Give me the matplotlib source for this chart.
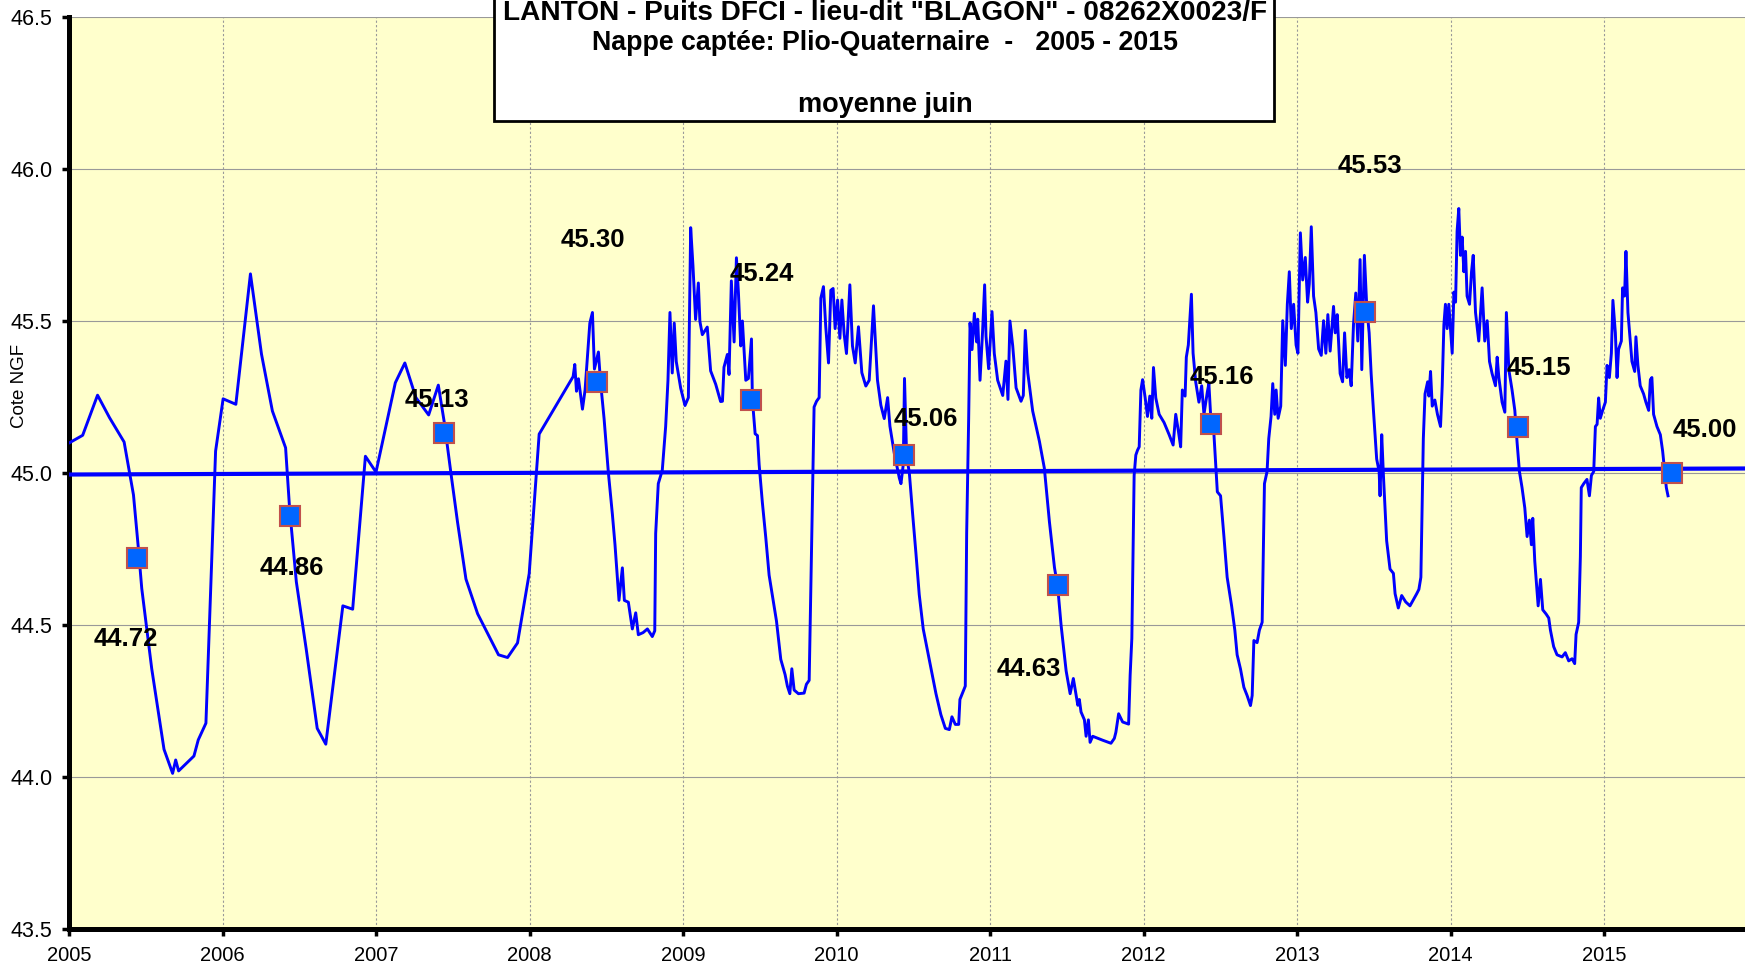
import numpy as np
import matplotlib
matplotlib.use('Agg')
import matplotlib.pyplot as plt
from matplotlib.patches import Rectangle

plt.rcParams['font.family'] = ['Liberation Sans', 'DejaVu Sans']

# piezometric level (m NGF), dates as decimal years
dates_2005_2007 = [2005.005, 2005.089, 2005.186, 2005.264, 2005.359, 2005.420, 2005.452, 2005.474,
                   2005.539, 2005.619, 2005.675, 2005.695, 2005.714, 2005.814, 2005.842, 2005.892,
                   2005.955, 2006.004, 2006.087, 2006.182, 2006.254, 2006.325, 2006.411, 2006.437,
                   2006.481, 2006.545, 2006.617, 2006.673, 2006.784, 2006.848, 2006.931, 2007.000,
                   2007.126, 2007.188]
cote_2005_2007 = [45.100, 45.124, 45.256, 45.182, 45.102, 44.928, 44.752, 44.620,
                  44.356, 44.091, 44.012, 44.056, 44.020, 44.069, 44.122, 44.177,
                  45.072, 45.244, 45.226, 45.655, 45.391, 45.204, 45.083, 44.884,
                  44.642, 44.422, 44.160, 44.108, 44.563, 44.552, 45.055, 45.003,
                  45.297, 45.362]

dates_2007_2009 = [2007.260, 2007.343, 2007.406, 2007.445, 2007.488, 2007.531, 2007.586, 2007.662,
                   2007.798, 2007.857, 2007.922, 2007.998, 2008.063, 2008.284, 2008.295, 2008.306,
                   2008.319, 2008.345, 2008.362, 2008.393, 2008.410, 2008.423, 2008.449, 2008.462,
                   2008.486, 2008.514, 2008.540, 2008.557, 2008.583, 2008.605, 2008.618, 2008.644,
                   2008.670, 2008.692, 2008.709, 2008.740, 2008.768, 2008.800, 2008.816, 2008.822,
                   2008.839, 2008.865, 2008.887, 2008.902, 2008.915, 2008.930, 2008.943, 2008.956,
                   2008.985, 2009.013, 2009.035, 2009.050, 2009.065, 2009.082, 2009.100, 2009.110,
                   2009.126, 2009.158, 2009.180, 2009.213, 2009.245]
cote_2007_2009 = [45.248, 45.191, 45.289, 45.166, 45.000, 44.839, 44.651, 44.537,
                  44.402, 44.393, 44.441, 44.669, 45.128, 45.317, 45.357, 45.269,
                  45.310, 45.210, 45.273, 45.493, 45.528, 45.342, 45.398, 45.304,
                  45.178, 45.000, 44.864, 44.764, 44.581, 44.688, 44.581, 44.575,
                  44.487, 44.540, 44.468, 44.475, 44.487, 44.462, 44.481, 44.801,
                  44.965, 45.009, 45.153, 45.304, 45.528, 45.329, 45.493, 45.367,
                  45.279, 45.222, 45.248, 45.807, 45.681, 45.505, 45.625, 45.499,
                  45.455, 45.480, 45.336, 45.292, 45.235]

dates_2009_2011 = [2009.257, 2009.267, 2009.289, 2009.300, 2009.315, 2009.333, 2009.348, 2009.361,
                   2009.376, 2009.387, 2009.409, 2009.426, 2009.446, 2009.452, 2009.470, 2009.485,
                   2009.496, 2009.517, 2009.539, 2009.561, 2009.589, 2009.609, 2009.637, 2009.665,
                   2009.680, 2009.696, 2009.709, 2009.724, 2009.752, 2009.789, 2009.804, 2009.822,
                   2009.839, 2009.854, 2009.870, 2009.887, 2009.898, 2009.915, 2009.930, 2009.948,
                   2009.963, 2009.978, 2009.991, 2010.007, 2010.022, 2010.035, 2010.050, 2010.065,
                   2010.087, 2010.104, 2010.122, 2010.143, 2010.165, 2010.191, 2010.213, 2010.241,
                   2010.267, 2010.289, 2010.311, 2010.333, 2010.348, 2010.376, 2010.409, 2010.420,
                   2010.435, 2010.443, 2010.457, 2010.474, 2010.496, 2010.517, 2010.539, 2010.565,
                   2010.604, 2010.648, 2010.680, 2010.709, 2010.735, 2010.752, 2010.774, 2010.796,
                   2010.804, 2010.839, 2010.848, 2010.861, 2010.870, 2010.883, 2010.898, 2010.913,
                   2010.920, 2010.935, 2010.952, 2010.965, 2010.974, 2010.991, 2011.013, 2011.028,
                   2011.050, 2011.083, 2011.104, 2011.117, 2011.130, 2011.148, 2011.170, 2011.202,
                   2011.217, 2011.230, 2011.246, 2011.278, 2011.322, 2011.354, 2011.387, 2011.420,
                   2011.441, 2011.463, 2011.496, 2011.522, 2011.543, 2011.572]
cote_2009_2011 = [45.236, 45.348, 45.390, 45.324, 45.632, 45.431, 45.708, 45.594,
                  45.418, 45.500, 45.305, 45.311, 45.441, 45.242, 45.129, 45.123,
                  45.028, 44.903, 44.789, 44.664, 44.576, 44.513, 44.387, 44.337,
                  44.299, 44.274, 44.356, 44.286, 44.274, 44.276, 44.305, 44.318,
                  44.802, 45.217, 45.236, 45.248, 45.575, 45.613, 45.481, 45.362,
                  45.601, 45.607, 45.475, 45.569, 45.443, 45.569, 45.456, 45.393,
                  45.619, 45.418, 45.362, 45.481, 45.330, 45.286, 45.305, 45.550,
                  45.305, 45.223, 45.179, 45.248, 45.154, 45.066, 44.984, 44.965,
                  45.028, 45.311, 45.053, 45.003, 44.865, 44.739, 44.600, 44.487,
                  44.387, 44.274, 44.205, 44.160, 44.156, 44.198, 44.173, 44.173,
                  44.255, 44.299, 44.802, 45.179, 45.494, 45.406, 45.525, 45.431,
                  45.506, 45.305, 45.469, 45.619, 45.450, 45.343, 45.531, 45.393,
                  45.305, 45.255, 45.368, 45.242, 45.500, 45.418, 45.280, 45.236,
                  45.255, 45.469, 45.330, 45.204, 45.104, 45.016, 44.840, 44.689,
                  44.626, 44.500, 44.349, 44.274, 44.324, 44.236]

dates_2011_2013 = [2011.582, 2011.593, 2011.615, 2011.626, 2011.641, 2011.652, 2011.669, 2011.734,
                   2011.788, 2011.810, 2011.820, 2011.838, 2011.864, 2011.903, 2011.913, 2011.924,
                   2011.939, 2011.950, 2011.961, 2011.972, 2011.983, 2011.994, 2012.011, 2012.026,
                   2012.041, 2012.054, 2012.065, 2012.080, 2012.102, 2012.134, 2012.167, 2012.193,
                   2012.210, 2012.227, 2012.242, 2012.253, 2012.271, 2012.279, 2012.292, 2012.312,
                   2012.323, 2012.340, 2012.361, 2012.379, 2012.394, 2012.416, 2012.426, 2012.437,
                   2012.459, 2012.481, 2012.502, 2012.524, 2012.545, 2012.574, 2012.595, 2012.610,
                   2012.632, 2012.654, 2012.675, 2012.697, 2012.708, 2012.719, 2012.740, 2012.755,
                   2012.773, 2012.788, 2012.805, 2012.816, 2012.831, 2012.842, 2012.855, 2012.864,
                   2012.877, 2012.894, 2012.907, 2012.924, 2012.937, 2012.950, 2012.963, 2012.978,
                   2012.994, 2013.006, 2013.022, 2013.037, 2013.054, 2013.069, 2013.080, 2013.093,
                   2013.108, 2013.123, 2013.141, 2013.158, 2013.173, 2013.188, 2013.201, 2013.216,
                   2013.238, 2013.249, 2013.262, 2013.281, 2013.297, 2013.310, 2013.325, 2013.340,
                   2013.353, 2013.368, 2013.383, 2013.396, 2013.411, 2013.422, 2013.439, 2013.455,
                   2013.470, 2013.483, 2013.498, 2013.519, 2013.535, 2013.541, 2013.552, 2013.563,
                   2013.584, 2013.606, 2013.628, 2013.639, 2013.660, 2013.682, 2013.708, 2013.736,
                   2013.758, 2013.780, 2013.794, 2013.807, 2013.823, 2013.834, 2013.851]
cote_2011_2013 = [44.255, 44.214, 44.188, 44.134, 44.188, 44.114, 44.134, 44.121,
                  44.111, 44.127, 44.147, 44.208, 44.181, 44.174, 44.335, 44.456,
                  44.992, 45.059, 45.075, 45.086, 45.273, 45.307, 45.247, 45.186,
                  45.253, 45.180, 45.347, 45.247, 45.193, 45.166, 45.126, 45.092,
                  45.193, 45.139, 45.086, 45.273, 45.253, 45.381, 45.421, 45.588,
                  45.394, 45.300, 45.233, 45.287, 45.193, 45.267, 45.294, 45.193,
                  45.126, 44.938, 44.925, 44.791, 44.657, 44.563, 44.483, 44.402,
                  44.355, 44.295, 44.268, 44.235, 44.268, 44.449, 44.442, 44.483,
                  44.509, 44.965, 45.005, 45.113, 45.186, 45.294, 45.193, 45.273,
                  45.180, 45.220, 45.501, 45.354, 45.555, 45.662, 45.475, 45.555,
                  45.421, 45.394, 45.790, 45.635, 45.709, 45.562, 45.622, 45.810,
                  45.582, 45.528, 45.408, 45.387, 45.501, 45.394, 45.521, 45.401,
                  45.548, 45.461, 45.521, 45.327, 45.300, 45.461, 45.314, 45.340,
                  45.287, 45.488, 45.592, 45.434, 45.702, 45.340, 45.716, 45.542,
                  45.461, 45.327, 45.206, 45.046, 45.005, 44.925, 45.126, 44.992,
                  44.777, 44.684, 44.670, 44.603, 44.556, 44.597, 44.576, 44.563,
                  44.583, 44.603, 44.617, 44.657, 45.113, 45.260, 45.300]

dates_2013_2015 = [2013.859, 2013.870, 2013.881, 2013.898, 2013.915, 2013.935, 2013.946, 2013.957,
                   2013.967, 2013.978, 2013.989, 2014.000, 2014.011, 2014.022, 2014.033, 2014.043,
                   2014.054, 2014.065, 2014.076, 2014.087, 2014.098, 2014.108, 2014.124, 2014.137,
                   2014.148, 2014.163, 2014.184, 2014.206, 2014.223, 2014.239, 2014.254, 2014.271,
                   2014.293, 2014.304, 2014.315, 2014.336, 2014.354, 2014.364, 2014.380, 2014.401,
                   2014.419, 2014.434, 2014.449, 2014.466, 2014.484, 2014.499, 2014.514, 2014.527,
                   2014.536, 2014.549, 2014.571, 2014.586, 2014.601, 2014.623, 2014.640, 2014.651,
                   2014.672, 2014.694, 2014.727, 2014.748, 2014.770, 2014.792, 2014.809, 2014.818,
                   2014.835, 2014.846, 2014.852, 2014.868, 2014.889, 2014.905, 2014.918, 2014.933,
                   2014.944, 2014.955, 2014.965, 2014.976, 2014.991, 2015.009, 2015.020, 2015.035,
                   2015.048, 2015.058, 2015.074, 2015.085, 2015.095, 2015.113, 2015.121, 2015.134,
                   2015.143, 2015.156, 2015.171, 2015.182, 2015.200, 2015.208, 2015.221, 2015.236,
                   2015.258, 2015.273, 2015.291, 2015.302, 2015.312, 2015.323, 2015.345, 2015.367,
                   2015.382, 2015.395, 2015.406, 2015.417]
cote_2013_2015 = [45.253, 45.334, 45.220, 45.240, 45.193, 45.153, 45.287, 45.488,
                  45.555, 45.475, 45.555, 45.475, 45.394, 45.595, 45.562, 45.796,
                  45.870, 45.716, 45.776, 45.662, 45.729, 45.582, 45.555, 45.662,
                  45.716, 45.528, 45.434, 45.609, 45.434, 45.501, 45.367, 45.327,
                  45.287, 45.381, 45.314, 45.233, 45.200, 45.528, 45.340, 45.273,
                  45.206, 45.099, 45.005, 44.952, 44.885, 44.791, 44.845, 44.764,
                  44.851, 44.710, 44.563, 44.650, 44.550, 44.536, 44.523, 44.483,
                  44.429, 44.402, 44.395, 44.409, 44.382, 44.389, 44.373, 44.469,
                  44.509, 44.724, 44.952, 44.965, 44.979, 44.925, 44.992, 45.005,
                  45.153, 45.160, 45.247, 45.180, 45.206, 45.233, 45.354, 45.314,
                  45.394, 45.568, 45.461, 45.314, 45.407, 45.434, 45.609, 45.582,
                  45.729, 45.528, 45.434, 45.367, 45.334, 45.448, 45.354, 45.287,
                  45.260, 45.233, 45.206, 45.307, 45.314, 45.193, 45.153, 45.126,
                  45.072, 45.005, 44.952, 44.925]

# linear trend over the period
tendance_x = [2005.0, 2016.0]
tendance_y = [44.995, 45.015]

# June mean level per year
annees = np.arange(2005, 2016)
moyenne_juin = [44.72, 44.86, 45.13, 45.30, 45.24, 45.06, 44.63, 45.16, 45.53, 45.15, 45.00]
# label offsets from each marker (points)
label_dx = [-8, 1, -5, -3, 8, 16, -21, 8, 4, 15, 24]
label_dy = [-58, -38, 24, 102, 91, 26, -60, 34, 105, 43, 31]

titre = ['LANTON - Puits DFCI - lieu-dit "BLAGON" - 08262X0023/F',
         'Nappe captée: Plio-Quaternaire  -   2005 - 2015',
         'moyenne juin']

dates = np.concatenate([dates_2005_2007, dates_2007_2009, dates_2009_2011,
                        dates_2011_2013, dates_2013_2015])
cote = np.concatenate([cote_2005_2007, cote_2007_2009, cote_2009_2011,
                       cote_2011_2013, cote_2013_2015])
juin_x = annees + 0.44

W, H = 1745, 967
fig = plt.figure(figsize=(W / 100, H / 100), dpi=100)
ax = fig.add_axes([69 / W, 38 / H, 1676 / W, 912 / H])
ax.set_facecolor('#FFFFCC')

ax.plot(dates, cote, color='#0000FF', lw=2.1, zorder=3)
ax.plot(tendance_x, tendance_y, color='#0000FF', lw=3.0, zorder=3)
ax.plot(juin_x, moyenne_juin, ls='none', marker='s', ms=14, mfc='#0066FF',
        mec='#C0504D', mew=1.5, zorder=5)
for x, v, dx, dy in zip(juin_x, moyenne_juin, label_dx, label_dy):
    ax.annotate(f'{v:.2f}', (x, v), xytext=(dx, dy), textcoords='offset points',
                ha='center', va='center', fontsize=18.5, fontweight='bold', zorder=6)

ax.set_xlim(2005, 2005 + 1676 / 153.5)
ax.set_ylim(43.5, 46.5)
ax.set_xticks(annees)
ax.set_xticklabels([str(a) for a in annees])
yt = np.arange(43.5, 46.51, 0.5)
ax.set_yticks(yt)
ax.set_yticklabels([f'{v:.1f}' for v in yt])
ax.yaxis.grid(True, color='#999999', lw=0.8, ls='-')
ax.xaxis.grid(True, color='#999999', lw=0.8, ls=(0, (2, 2)))
ax.set_axisbelow(True)
for s in ['top', 'right']:
    ax.spines[s].set_visible(False)
for s in ['left', 'bottom']:
    ax.spines[s].set_linewidth(3.6)
ax.tick_params(direction='out', length=5, width=2.5, labelsize=14.5, pad=7)
ax.tick_params(axis='y', labelsize=15.5)
ax.set_ylabel('Cote NGF', fontsize=13.5)
ax.yaxis.set_label_coords(-0.0245, 0.596)

# title box
fig.patches.append(Rectangle((494 / W, 1 - 121 / H), 780 / W, 140 / H,
                             transform=fig.transFigure, fc='white', ec='black',
                             lw=2, zorder=10))
for txt, yb, fs in zip(titre, [20, 50, 112], [20.2, 19.3, 19.5]):
    fig.text(885 / W, 1 - yb / H, txt, ha='center', va='baseline', fontsize=fs,
             fontweight='bold', zorder=11)

fig.savefig('out.png', dpi=100)
plt.close(fig)
